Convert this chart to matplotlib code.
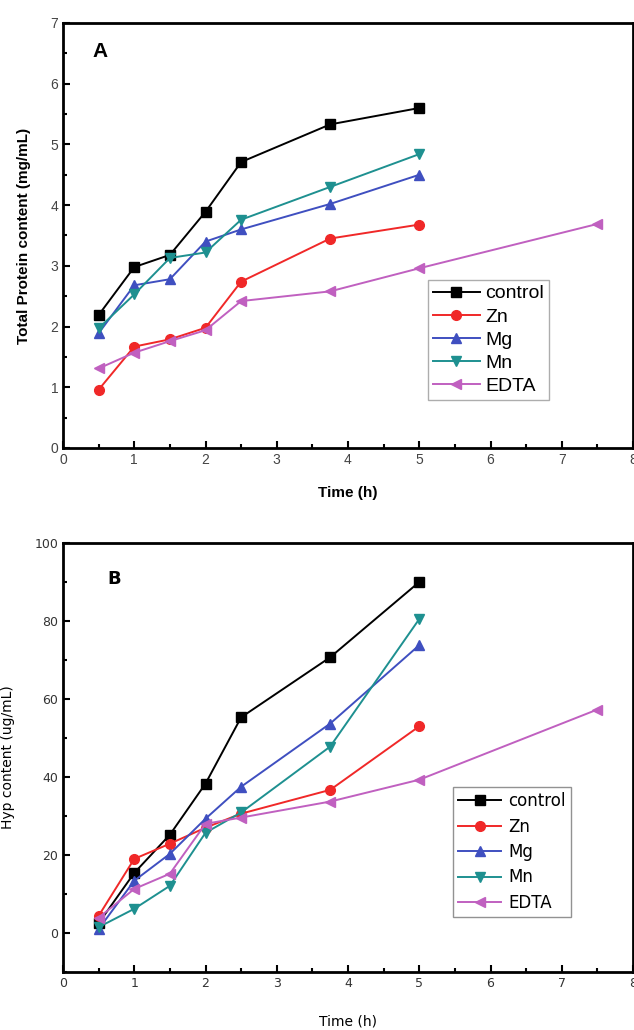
import matplotlib
matplotlib.use("Agg")
import matplotlib.pyplot as plt
from matplotlib.ticker import MultipleLocator

# ---- data ----
time_main = [0.5, 1, 1.5, 2, 2.5, 3.75, 5]
time_edta = [0.5, 1, 1.5, 2, 2.5, 3.75, 5, 7.5]
series_names = ["control", "Zn", "Mg", "Mn", "EDTA"]

protein_control = [2.19, 2.98, 3.18, 3.89, 4.71, 5.33, 5.60]
protein_zn = [0.96, 1.67, 1.79, 1.98, 2.74, 3.45, 3.68]
protein_mg = [1.89, 2.68, 2.78, 3.40, 3.60, 4.02, 4.50]
protein_mn = [1.97, 2.53, 3.13, 3.22, 3.76, 4.30, 4.84]
protein_edta = [1.31, 1.57, 1.76, 1.94, 2.42, 2.58, 2.96, 3.69]

hyp_control = [2.5, 15.4, 25.2, 38.3, 55.3, 70.7, 90.0]
hyp_zn = [4.4, 19.0, 22.9, 27.0, 30.6, 36.7, 53.0]
hyp_mg = [1.0, 13.4, 20.3, 29.3, 37.5, 53.7, 73.8]
hyp_mn = [1.5, 6.2, 12.1, 25.7, 30.9, 47.8, 80.5]
hyp_edta = [3.9, 11.3, 15.2, 28.0, 29.6, 33.7, 39.3, 57.3]

colors = ["#000000", "#f02828", "#3f4fc0", "#1e9090", "#c060c0"]
markers = ["s", "o", "^", "v", "<"]

W, H = 634, 1030
fig = plt.figure(figsize=(W / 100, H / 100), dpi=100)

def pos(x0, y0, x1, y1):
    return [x0 / W, 1 - y1 / H, (x1 - x0) / W, (y1 - y0) / H]

axA = fig.add_axes(pos(63, 23, 633, 448))
axB = fig.add_axes(pos(63, 543, 633, 972))

dataA = [protein_control, protein_zn, protein_mg, protein_mn, protein_edta]
dataB = [hyp_control, hyp_zn, hyp_mg, hyp_mn, hyp_edta]

for ax, data in ((axA, dataA), (axB, dataB)):
    for name, vals, c, m in zip(series_names, data, colors, markers):
        t = time_edta if name == "EDTA" else time_main
        ax.plot(t, vals, color=c, marker=m, markersize=7, linewidth=1.4,
                label=name, clip_on=False, zorder=3)
    ax.set_xlim(0, 8)
    ax.xaxis.set_major_locator(MultipleLocator(1))
    ax.xaxis.set_minor_locator(MultipleLocator(0.5))
    ax.tick_params(which="both", direction="in", width=1.5)
    ax.tick_params(which="major", length=5)
    ax.tick_params(which="minor", length=3)
    for s in ax.spines.values():
        s.set_linewidth(2)

# Panel A
axA.set_ylim(0, 7)
axA.yaxis.set_major_locator(MultipleLocator(1))
axA.yaxis.set_minor_locator(MultipleLocator(0.5))
for lbl in axA.get_xticklabels() + axA.get_yticklabels():
    lbl.set_fontfamily("Liberation Sans")
    lbl.set_fontsize(10)
    lbl.set_color("#444444")
axA.set_xlabel("Time (h)", fontfamily="Liberation Sans", fontweight="bold",
               fontsize=11, labelpad=14)
axA.set_ylabel("Total Protein content (mg/mL)", fontfamily="Liberation Sans",
               fontweight="bold", fontsize=11, labelpad=14)
axA.text(0.051, 0.932, "A", transform=axA.transAxes, fontfamily="Liberation Sans",
         fontweight="bold", fontsize=15, va="center")
legA = axA.legend(loc="upper left", bbox_to_anchor=(365 / 570, 1 - 257 / 425),
                  prop={"family": "Liberation Sans", "size": 14},
                  frameon=True, fancybox=False, edgecolor="#999999",
                  handlelength=2.4, handletextpad=0.3, labelspacing=0.28,
                  borderpad=0.25, borderaxespad=0)
legA.get_frame().set_linewidth(1)

# Panel B
axB.set_ylim(-10, 100)
axB.yaxis.set_major_locator(MultipleLocator(20))
axB.yaxis.set_minor_locator(MultipleLocator(10))
for lbl in axB.get_xticklabels() + axB.get_yticklabels():
    lbl.set_fontfamily("DejaVu Sans")
    lbl.set_fontsize(9)
    lbl.set_color("#333333")
axB.set_xlabel("Time (h)", fontfamily="DejaVu Sans", fontsize=10, labelpad=18)
axB.set_ylabel("Hyp content (ug/mL)", fontfamily="DejaVu Sans", fontsize=10,
               labelpad=14)
axB.text(0.077, 0.916, "B", transform=axB.transAxes, fontfamily="DejaVu Sans",
         fontweight="bold", fontsize=13, va="center")
legB = axB.legend(loc="upper left", bbox_to_anchor=(390 / 570, 1 - 244 / 429),
                  prop={"family": "DejaVu Sans", "size": 12},
                  frameon=True, fancybox=False, edgecolor="#777777",
                  handlelength=2.6, handletextpad=0.4, labelspacing=0.45,
                  borderpad=0.3, borderaxespad=0)
legB.get_frame().set_linewidth(1)

fig.savefig("out.png", dpi=100)
